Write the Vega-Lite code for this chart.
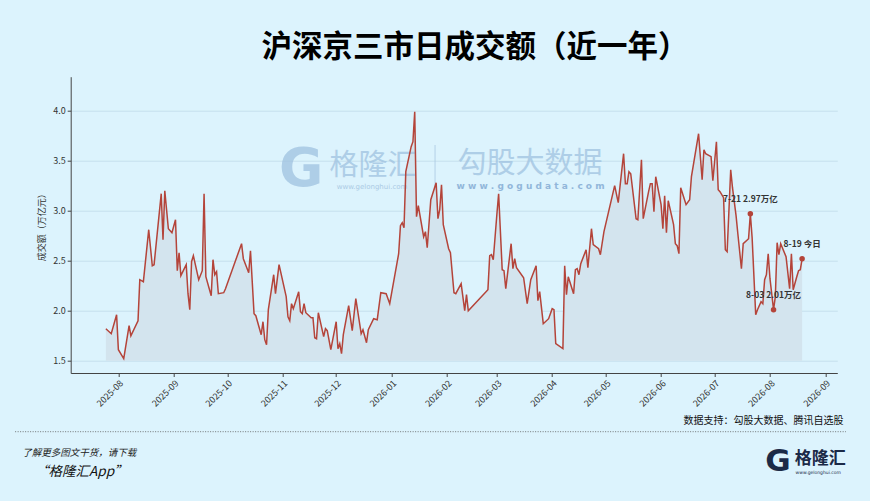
{
  "$schema": "https://vega.github.io/schema/vega-lite/v6.json",
  "width": 766.6,
  "height": 296.3,
  "autosize": {"type": "none"},
  "padding": {"left": 70.7, "top": 76.7, "right": 32.7, "bottom": 128},
  "background": "#dcf3fd",
  "config": {
    "view": {"stroke": null},
    "font": "Noto Sans CJK SC",
    "axis": {"labelFont": "Noto Sans CJK SC", "titleFont": "Noto Sans CJK SC"}
  },
  "title": {
    "text": "沪深京三市日成交额（近一年）",
    "font": "Noto Sans CJK SC",
    "fontSize": 30.5,
    "fontWeight": "bold",
    "color": "#000000",
    "anchor": "middle",
    "dx": 21,
    "offset": 13
  },
  "datasets": {
    "turnover": [
      {"date": "2025-07-25", "v": 1.82},
      {"date": "2025-07-28", "v": 1.77},
      {"date": "2025-07-31", "v": 1.96},
      {"date": "2025-08-01", "v": 1.61},
      {"date": "2025-08-04", "v": 1.52},
      {"date": "2025-08-07", "v": 1.85},
      {"date": "2025-08-08", "v": 1.75},
      {"date": "2025-08-12", "v": 1.90},
      {"date": "2025-08-13", "v": 2.31},
      {"date": "2025-08-15", "v": 2.29},
      {"date": "2025-08-18", "v": 2.81},
      {"date": "2025-08-20", "v": 2.45},
      {"date": "2025-08-21", "v": 2.46},
      {"date": "2025-08-25", "v": 3.17},
      {"date": "2025-08-26", "v": 2.71},
      {"date": "2025-08-27", "v": 3.20},
      {"date": "2025-08-29", "v": 2.82},
      {"date": "2025-08-31", "v": 2.78},
      {"date": "2025-09-02", "v": 2.91},
      {"date": "2025-09-03", "v": 2.40},
      {"date": "2025-09-04", "v": 2.58},
      {"date": "2025-09-05", "v": 2.35},
      {"date": "2025-09-08", "v": 2.46},
      {"date": "2025-09-09", "v": 2.17},
      {"date": "2025-09-10", "v": 2.01},
      {"date": "2025-09-11", "v": 2.49},
      {"date": "2025-09-12", "v": 2.55},
      {"date": "2025-09-15", "v": 2.31},
      {"date": "2025-09-17", "v": 2.40},
      {"date": "2025-09-18", "v": 3.17},
      {"date": "2025-09-19", "v": 2.34},
      {"date": "2025-09-22", "v": 2.15},
      {"date": "2025-09-23", "v": 2.51},
      {"date": "2025-09-24", "v": 2.36},
      {"date": "2025-09-25", "v": 2.39},
      {"date": "2025-09-26", "v": 2.17},
      {"date": "2025-09-29", "v": 2.18},
      {"date": "2025-09-30", "v": 2.22},
      {"date": "2025-10-09", "v": 2.67},
      {"date": "2025-10-10", "v": 2.52},
      {"date": "2025-10-13", "v": 2.38},
      {"date": "2025-10-14", "v": 2.60},
      {"date": "2025-10-16", "v": 1.97},
      {"date": "2025-10-17", "v": 1.95},
      {"date": "2025-10-20", "v": 1.76},
      {"date": "2025-10-21", "v": 1.89},
      {"date": "2025-10-22", "v": 1.71},
      {"date": "2025-10-23", "v": 1.66},
      {"date": "2025-10-24", "v": 2.01},
      {"date": "2025-10-27", "v": 2.36},
      {"date": "2025-10-28", "v": 2.17},
      {"date": "2025-10-30", "v": 2.46},
      {"date": "2025-11-03", "v": 2.14},
      {"date": "2025-11-04", "v": 1.94},
      {"date": "2025-11-05", "v": 1.90},
      {"date": "2025-11-06", "v": 2.07},
      {"date": "2025-11-07", "v": 2.02},
      {"date": "2025-11-10", "v": 2.19},
      {"date": "2025-11-11", "v": 1.99},
      {"date": "2025-11-12", "v": 1.97},
      {"date": "2025-11-13", "v": 2.07},
      {"date": "2025-11-14", "v": 1.98},
      {"date": "2025-11-17", "v": 1.93},
      {"date": "2025-11-18", "v": 1.93},
      {"date": "2025-11-19", "v": 1.73},
      {"date": "2025-11-20", "v": 1.72},
      {"date": "2025-11-21", "v": 1.98},
      {"date": "2025-11-24", "v": 1.74},
      {"date": "2025-11-25", "v": 1.82},
      {"date": "2025-11-26", "v": 1.80},
      {"date": "2025-11-28", "v": 1.61},
      {"date": "2025-12-01", "v": 1.89},
      {"date": "2025-12-02", "v": 1.62},
      {"date": "2025-12-03", "v": 1.67},
      {"date": "2025-12-04", "v": 1.57},
      {"date": "2025-12-05", "v": 1.76},
      {"date": "2025-12-08", "v": 2.05},
      {"date": "2025-12-10", "v": 1.80},
      {"date": "2025-12-12", "v": 2.12},
      {"date": "2025-12-15", "v": 1.77},
      {"date": "2025-12-16", "v": 1.81},
      {"date": "2025-12-18", "v": 1.68},
      {"date": "2025-12-19", "v": 1.81},
      {"date": "2025-12-22", "v": 1.92},
      {"date": "2025-12-24", "v": 1.91},
      {"date": "2025-12-26", "v": 2.18},
      {"date": "2025-12-29", "v": 2.17},
      {"date": "2025-12-31", "v": 2.07},
      {"date": "2026-01-05", "v": 2.57},
      {"date": "2026-01-06", "v": 2.85},
      {"date": "2026-01-07", "v": 2.88},
      {"date": "2026-01-08", "v": 2.83},
      {"date": "2026-01-09", "v": 3.39},
      {"date": "2026-01-12", "v": 3.64},
      {"date": "2026-01-13", "v": 3.69},
      {"date": "2026-01-14", "v": 3.99},
      {"date": "2026-01-15", "v": 2.94},
      {"date": "2026-01-16", "v": 3.05},
      {"date": "2026-01-19", "v": 2.74},
      {"date": "2026-01-20", "v": 2.79},
      {"date": "2026-01-21", "v": 2.63},
      {"date": "2026-01-23", "v": 3.11},
      {"date": "2026-01-26", "v": 3.28},
      {"date": "2026-01-27", "v": 2.92},
      {"date": "2026-01-28", "v": 3.01},
      {"date": "2026-01-29", "v": 3.26},
      {"date": "2026-01-30", "v": 2.86},
      {"date": "2026-02-02", "v": 2.62},
      {"date": "2026-02-03", "v": 2.58},
      {"date": "2026-02-05", "v": 2.18},
      {"date": "2026-02-06", "v": 2.17},
      {"date": "2026-02-09", "v": 2.27},
      {"date": "2026-02-11", "v": 2.00},
      {"date": "2026-02-12", "v": 2.16},
      {"date": "2026-02-13", "v": 2.00},
      {"date": "2026-02-24", "v": 2.21},
      {"date": "2026-02-25", "v": 2.55},
      {"date": "2026-02-26", "v": 2.56},
      {"date": "2026-02-27", "v": 2.51},
      {"date": "2026-03-01", "v": 2.96},
      {"date": "2026-03-02", "v": 3.17},
      {"date": "2026-03-04", "v": 2.41},
      {"date": "2026-03-05", "v": 2.40},
      {"date": "2026-03-06", "v": 2.22},
      {"date": "2026-03-09", "v": 2.67},
      {"date": "2026-03-10", "v": 2.42},
      {"date": "2026-03-11", "v": 2.52},
      {"date": "2026-03-12", "v": 2.43},
      {"date": "2026-03-16", "v": 2.33},
      {"date": "2026-03-18", "v": 2.07},
      {"date": "2026-03-20", "v": 2.31},
      {"date": "2026-03-23", "v": 2.45},
      {"date": "2026-03-24", "v": 2.10},
      {"date": "2026-03-25", "v": 2.19},
      {"date": "2026-03-27", "v": 1.87},
      {"date": "2026-03-30", "v": 1.92},
      {"date": "2026-04-01", "v": 2.02},
      {"date": "2026-04-02", "v": 2.01},
      {"date": "2026-04-03", "v": 1.67},
      {"date": "2026-04-07", "v": 1.62},
      {"date": "2026-04-08", "v": 2.45},
      {"date": "2026-04-09", "v": 2.16},
      {"date": "2026-04-10", "v": 2.34},
      {"date": "2026-04-13", "v": 2.17},
      {"date": "2026-04-14", "v": 2.41},
      {"date": "2026-04-15", "v": 2.42},
      {"date": "2026-04-16", "v": 2.36},
      {"date": "2026-04-17", "v": 2.47},
      {"date": "2026-04-20", "v": 2.61},
      {"date": "2026-04-21", "v": 2.43},
      {"date": "2026-04-23", "v": 2.82},
      {"date": "2026-04-24", "v": 2.66},
      {"date": "2026-04-27", "v": 2.62},
      {"date": "2026-04-28", "v": 2.56},
      {"date": "2026-04-30", "v": 2.79},
      {"date": "2026-05-06", "v": 3.25},
      {"date": "2026-05-08", "v": 3.08},
      {"date": "2026-05-11", "v": 3.57},
      {"date": "2026-05-12", "v": 3.27},
      {"date": "2026-05-13", "v": 3.27},
      {"date": "2026-05-14", "v": 3.39},
      {"date": "2026-05-15", "v": 3.37},
      {"date": "2026-05-18", "v": 2.92},
      {"date": "2026-05-19", "v": 2.91},
      {"date": "2026-05-21", "v": 3.51},
      {"date": "2026-05-22", "v": 2.92},
      {"date": "2026-05-25", "v": 3.19},
      {"date": "2026-05-26", "v": 3.27},
      {"date": "2026-05-27", "v": 3.27},
      {"date": "2026-05-28", "v": 2.99},
      {"date": "2026-05-29", "v": 3.34},
      {"date": "2026-06-01", "v": 3.06},
      {"date": "2026-06-02", "v": 2.82},
      {"date": "2026-06-03", "v": 3.15},
      {"date": "2026-06-04", "v": 2.78},
      {"date": "2026-06-05", "v": 3.10},
      {"date": "2026-06-08", "v": 2.86},
      {"date": "2026-06-09", "v": 2.67},
      {"date": "2026-06-10", "v": 2.65},
      {"date": "2026-06-11", "v": 2.57},
      {"date": "2026-06-12", "v": 3.23},
      {"date": "2026-06-15", "v": 3.06},
      {"date": "2026-06-17", "v": 3.11},
      {"date": "2026-06-18", "v": 3.34},
      {"date": "2026-06-22", "v": 3.77},
      {"date": "2026-06-24", "v": 3.31},
      {"date": "2026-06-25", "v": 3.61},
      {"date": "2026-06-26", "v": 3.57},
      {"date": "2026-06-29", "v": 3.54},
      {"date": "2026-06-30", "v": 3.30},
      {"date": "2026-07-02", "v": 3.69},
      {"date": "2026-07-03", "v": 3.21},
      {"date": "2026-07-04", "v": 3.19},
      {"date": "2026-07-06", "v": 3.13},
      {"date": "2026-07-07", "v": 2.61},
      {"date": "2026-07-08", "v": 2.59},
      {"date": "2026-07-10", "v": 3.41},
      {"date": "2026-07-11", "v": 3.23},
      {"date": "2026-07-13", "v": 2.95},
      {"date": "2026-07-14", "v": 2.77},
      {"date": "2026-07-16", "v": 2.42},
      {"date": "2026-07-17", "v": 2.67},
      {"date": "2026-07-20", "v": 2.72},
      {"date": "2026-07-21", "v": 2.97, "label": "7-21 2.97万亿"},
      {"date": "2026-07-22", "v": 2.73},
      {"date": "2026-07-24", "v": 1.96},
      {"date": "2026-07-25", "v": 2.01},
      {"date": "2026-07-27", "v": 2.09},
      {"date": "2026-07-28", "v": 2.07},
      {"date": "2026-07-29", "v": 2.31},
      {"date": "2026-07-30", "v": 2.36},
      {"date": "2026-07-31", "v": 2.57},
      {"date": "2026-08-01", "v": 2.32},
      {"date": "2026-08-03", "v": 2.01, "label": "8-03 2.01万亿"},
      {"date": "2026-08-04", "v": 2.14},
      {"date": "2026-08-05", "v": 2.68},
      {"date": "2026-08-06", "v": 2.56},
      {"date": "2026-08-07", "v": 2.67},
      {"date": "2026-08-10", "v": 2.54},
      {"date": "2026-08-12", "v": 2.22},
      {"date": "2026-08-13", "v": 2.57},
      {"date": "2026-08-14", "v": 2.21},
      {"date": "2026-08-16", "v": 2.34},
      {"date": "2026-08-17", "v": 2.40},
      {"date": "2026-08-18", "v": 2.41},
      {"date": "2026-08-19", "v": 2.52, "label": "8-19 今日"}
    ]
  },
  "encoding": {
    "x": {
      "field": "date",
      "type": "temporal",
      "scale": {
        "type": "utc",
        "domain": [
          {"year": 2025, "month": 7, "date": 5, "hours": 7, "utc": true},
          {"year": 2026, "month": 9, "date": 7, "hours": 17, "utc": true}
        ]
      },
      "axis": {
        "values": [
          {"year": 2025, "month": 8, "date": 1, "utc": true},
          {"year": 2025, "month": 9, "date": 1, "utc": true},
          {"year": 2025, "month": 10, "date": 1, "utc": true},
          {"year": 2025, "month": 11, "date": 1, "utc": true},
          {"year": 2025, "month": 12, "date": 1, "utc": true},
          {"year": 2026, "month": 1, "date": 1, "utc": true},
          {"year": 2026, "month": 2, "date": 1, "utc": true},
          {"year": 2026, "month": 3, "date": 1, "utc": true},
          {"year": 2026, "month": 4, "date": 1, "utc": true},
          {"year": 2026, "month": 5, "date": 1, "utc": true},
          {"year": 2026, "month": 6, "date": 1, "utc": true},
          {"year": 2026, "month": 7, "date": 1, "utc": true},
          {"year": 2026, "month": 8, "date": 1, "utc": true},
          {"year": 2026, "month": 9, "date": 1, "utc": true}
        ],
        "format": "%Y-%m",
        "labelAngle": -45,
        "labelFontSize": 9,
        "labelColor": "#333333",
        "labelPadding": 2,
        "tickSize": 3.5,
        "tickColor": "#444444",
        "domainColor": "#444444",
        "grid": false,
        "title": "数据支持：勾股大数据、腾讯自选股",
        "titleFontSize": 10,
        "titleFontWeight": "normal",
        "titleColor": "#111111",
        "titleX": 772.3,
        "titleY": 47.7,
        "titleAlign": "right",
        "titleBaseline": "middle"
      }
    },
    "y": {
      "field": "v",
      "type": "quantitative",
      "scale": {"domain": [1.377, 4.34], "zero": false, "nice": false},
      "axis": {
        "values": [1.5, 2.0, 2.5, 3.0, 3.5, 4.0],
        "format": ".1f",
        "labelFontSize": 9,
        "labelColor": "#333333",
        "labelPadding": 2,
        "tickSize": 3.5,
        "tickColor": "#444444",
        "domainColor": "#444444",
        "gridColor": "#c6e0ec",
        "gridWidth": 1,
        "title": "成交额（万亿元）",
        "titleFontSize": 9,
        "titleFontWeight": "normal",
        "titleColor": "#333333",
        "titlePadding": 6
      }
    }
  },
  "layer": [
    {
      "data": {"name": "turnover"},
      "mark": {"type": "area", "color": "#d3e4ee", "opacity": 1},
      "encoding": {"y2": {"datum": 1.5}}
    },
    {
      "data": {"values": [{"t": "G", "date": "2025-11-11T08:00:00Z", "v": 3.407}]},
      "mark": {"type": "text", "font": "DejaVu Sans", "fontWeight": "bold", "fontSize": 54, "color": "#9fc2e0", "opacity": 0.75, "align": "center", "baseline": "middle"},
      "encoding": {"text": {"field": "t"}}
    },
    {
      "data": {"values": [{"t": "格隆汇", "date": "2025-12-21T16:00:00Z", "v": 3.447}]},
      "mark": {"type": "text", "fontSize": 29, "color": "#9fc2e0", "opacity": 0.75, "align": "center", "baseline": "middle"},
      "encoding": {"text": {"field": "t"}}
    },
    {
      "data": {"values": [{"t": "www.gelonghui.com", "date": "2025-12-21T02:00:00Z", "v": 3.237}]},
      "mark": {"type": "text", "font": "DejaVu Sans", "fontSize": 7, "color": "#9fc2e0", "opacity": 0.8, "align": "center", "baseline": "middle"},
      "encoding": {"text": {"field": "t"}}
    },
    {
      "data": {"values": [{"date": "2026-01-25T09:00:00Z", "v": 3.657, "v2": 3.207}]},
      "mark": {"type": "rule", "color": "#a9c8e2", "strokeWidth": 1, "opacity": 0.8},
      "encoding": {"y2": {"field": "v2"}}
    },
    {
      "data": {"values": [{"t": "勾股大数据", "date": "2026-03-19T14:00:00Z", "v": 3.47}]},
      "mark": {"type": "text", "fontSize": 29, "color": "#9fc2e0", "opacity": 0.75, "align": "center", "baseline": "middle"},
      "encoding": {"text": {"field": "t"}}
    },
    {
      "data": {"values": [{"t": "w w w . g o g u d a t a . c o m", "date": "2026-03-19T21:00:00Z", "v": 3.25}]},
      "mark": {"type": "text", "font": "DejaVu Sans", "fontWeight": "bold", "fontSize": 9, "color": "#7fa8d2", "opacity": 0.8, "align": "center", "baseline": "middle"},
      "encoding": {"text": {"field": "t"}}
    },
    {
      "data": {"name": "turnover"},
      "mark": {"type": "line", "color": "#b4443a", "strokeWidth": 1.5},
      "encoding": {}
    },
    {
      "data": {"name": "turnover"},
      "transform": [{"filter": "isValid(datum.label)"}],
      "mark": {"type": "point", "filled": true, "shape": "circle", "size": 30, "color": "#b4443a", "opacity": 1},
      "encoding": {}
    },
    {
      "data": {"name": "turnover"},
      "transform": [{"filter": "isValid(datum.label)"}],
      "mark": {"type": "text", "fontSize": 8.5, "fontWeight": "bold", "color": "#333333", "align": "center", "baseline": "middle", "dy": -15},
      "encoding": {"text": {"field": "label"}}
    },
    {
      "data": {"values": [{"date": "2025-06-04T04:00:00Z", "date2": "2026-09-12T13:00:00Z", "v": 0.79}]},
      "mark": {"type": "rule", "color": "#555555", "strokeWidth": 0.8, "strokeDash": [1, 1.5]},
      "encoding": {"x2": {"field": "date2"}}
    },
    {
      "data": {"values": [{"t": "了解更多图文干货，请下载", "date": "2025-06-08T02:00:00Z", "v": 0.577}]},
      "mark": {"type": "text", "fontSize": 9.5, "fontStyle": "italic", "color": "#222222", "align": "left", "baseline": "middle"},
      "encoding": {"text": {"field": "t"}}
    },
    {
      "data": {"values": [{"t": "“格隆汇App”", "date": "2025-06-15T08:00:00Z", "v": 0.387}]},
      "mark": {"type": "text", "fontSize": 13.5, "fontStyle": "italic", "color": "#111111", "align": "left", "baseline": "middle"},
      "encoding": {"text": {"field": "t"}}
    },
    {
      "data": {"values": [{"t": "G", "date": "2026-08-05T10:00:00Z", "v": 0.487}]},
      "mark": {"type": "text", "font": "DejaVu Sans", "fontWeight": "bold", "fontSize": 31, "color": "#1b2a47", "align": "center", "baseline": "middle"},
      "encoding": {"text": {"field": "t"}}
    },
    {
      "data": {"values": [{"t": "格隆汇", "date": "2026-08-14T22:00:00Z", "v": 0.515}]},
      "mark": {"type": "text", "fontSize": 17, "fontWeight": "bold", "color": "#1b2a47", "align": "left", "baseline": "middle"},
      "encoding": {"text": {"field": "t"}}
    },
    {
      "data": {"values": [{"t": "www.gelonghui.com", "date": "2026-08-15T08:00:00Z", "v": 0.375}]},
      "mark": {"type": "text", "font": "DejaVu Sans", "fontSize": 4.5, "color": "#1b2a47", "align": "left", "baseline": "middle"},
      "encoding": {"text": {"field": "t"}}
    }
  ]
}
